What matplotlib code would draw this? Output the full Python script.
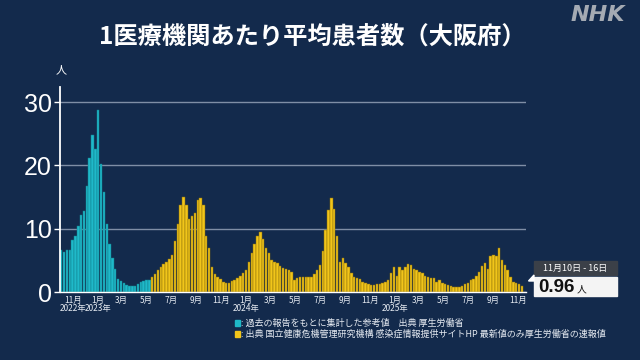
import matplotlib
matplotlib.use('Agg')
import matplotlib.pyplot as plt
import pandas as pd
from matplotlib.patches import Polygon, Rectangle

plt.rcParams['font.family'] = ['Noto Sans CJK JP', 'DejaVu Sans']

# ---------------- data ----------------
first_week = '2022-10-03'

# 過去の報告をもとに集計した参考値 (cyan)
reference_values = [6.6, 6.3, 6.6, 6.6, 8.2, 8.8, 10.4, 12.2, 12.8, 16.7,
                    21.1, 24.8, 22.6, 28.8, 20.3, 15.8, 10.8, 7.6, 5.4, 3.7,
                    2.1, 1.8, 1.4, 1.1, 1.0, 1.0, 1.0, 1.3, 1.6, 1.8,
                    1.9, 1.9]

# 感染症情報提供サイト (yellow)
surveillance_values = [
    2.4, 2.9, 3.4, 3.9, 4.4, 4.8, 5.2, 5.9, 8.0, 10.8,
    13.8, 15.0, 13.8, 11.5, 12.0, 12.5, 14.5, 14.8, 13.8, 8.9,
    7.0, 4.0, 2.9, 2.4, 2.0, 1.6, 1.5, 1.5, 1.7, 1.9,
    2.2, 2.6, 3.0, 3.5, 4.8, 6.1, 7.6, 8.8, 9.5, 8.3,
    7.0, 6.2, 5.1, 4.8, 4.6, 4.1, 3.8, 3.6, 3.4, 3.2,
    1.9, 2.2, 2.4, 2.4, 2.3, 2.3, 2.4, 2.9, 3.5, 4.3,
    6.5, 9.8, 13.0, 14.9, 13.1, 8.8, 4.8, 5.4, 4.6, 3.9,
    3.0, 2.4, 2.2, 2.0, 1.6, 1.4, 1.3, 1.1, 1.1, 1.2,
    1.3, 1.4, 1.6, 1.9, 3.0, 3.9, 2.6, 3.9, 3.5, 4.0,
    4.4, 4.3, 3.6, 3.4, 3.2, 3.0, 2.5, 2.3, 2.2, 2.2,
    1.6, 1.9, 1.4, 1.2, 1.1, 0.95, 0.85, 0.85, 0.85, 1.0,
    1.2, 1.4, 1.9, 2.1, 2.5, 3.2, 4.1, 4.6, 3.6, 5.7,
    5.9, 5.7, 6.9, 5.1, 4.3, 3.5, 2.4, 1.6, 1.4, 1.3,
    0.96]

month_tick_dates = ['2022-11-01', '2023-01-01', '2023-03-01', '2023-05-01',
                    '2023-07-01', '2023-09-01', '2023-11-01', '2024-01-01',
                    '2024-03-01', '2024-05-01', '2024-07-01', '2024-09-01',
                    '2024-11-01', '2025-01-01', '2025-03-01', '2025-05-01',
                    '2025-07-01', '2025-09-01', '2025-11-01']
month_tick_labels = ['11月', '1月', '3月', '5月', '7月', '9月', '11月', '1月',
                     '3月', '5月', '7月', '9月', '11月', '1月', '3月', '5月',
                     '7月', '9月', '11月']
year_label_dates = ['2022-11-01', '2023-01-01', '2024-01-01', '2025-01-01']
year_labels = ['2022年', '2023年', '2024年', '2025年']

y_ticks = [0, 10, 20, 30]
title = '1医療機関あたり平均患者数（大阪府）'
legend_texts = [': 過去の報告をもとに集計した参考値　出典 厚生労働省',
                ': 出典 国立健康危機管理研究機構 感染症情報提供サイトHP 最新値のみ厚生労働省の速報値']
latest_period = '11月10日 - 16日'
latest_value = '0.96'

# ---------------- style ----------------
BG = '#132a4c'
CYAN = '#1fb9c9'
YELLOW = '#f1c51a'
GRID = '#7f8ea6'
W, H = 640, 360


def fx(x):
    return x / W


def fy(y):
    return 1 - y / H


fig = plt.figure(figsize=(6.4, 3.6), dpi=100, facecolor=BG)
ax = fig.add_axes([fx(60), fy(292), (526 - 60) / W, (292 - 87) / H])
ax.set_facecolor(BG)

n_ref = len(reference_values)
weeks = pd.date_range(first_week, periods=n_ref + len(surveillance_values), freq='7D')

ax.bar(weeks[:n_ref], reference_values, width=6.0, color=CYAN,
       edgecolor='#127f8c', linewidth=0.35, zorder=3)
ax.bar(weeks[n_ref:], surveillance_values, width=6.0, color=YELLOW,
       edgecolor='#8a6e0c', linewidth=0.35, zorder=3)

ax.set_xlim(pd.Timestamp('2022-09-30'), pd.Timestamp('2025-11-20'))
ax.set_ylim(0, 32.4)

ax.set_yticks(y_ticks)
ax.set_yticklabels([str(v) for v in y_ticks], fontsize=18, color='white',
                   family=['Liberation Sans', 'DejaVu Sans'])
ax.tick_params(axis='y', length=4.5, width=1, color='white', pad=1.5)
ax.grid(axis='y', color=GRID, linewidth=1.0, zorder=1)

ax.set_xticks(pd.to_datetime(month_tick_dates))
ax.set_xticklabels(month_tick_labels, fontsize=6, color='#e6ebf2')
ax.tick_params(axis='x', length=0, pad=2.5)

for s in ['top', 'right']:
    ax.spines[s].set_visible(False)
ax.spines['left'].set_color('white')
ax.spines['left'].set_linewidth(1.3)
ax.spines['bottom'].set_color('white')
ax.spines['bottom'].set_linewidth(1.0)
ax.spines['left'].set_zorder(5)
ax.spines['bottom'].set_zorder(5)

xt = ax.get_xaxis_transform()
for d, lab in zip(year_label_dates, year_labels):
    ax.text(pd.Timestamp(d), -(308 - 292) / 205, lab, transform=xt,
            ha='center', va='center', fontsize=6, color='#e6ebf2')

# unit label
fig.text(fx(61), fy(70), '人', fontsize=8, color='white', ha='center', va='center')

# title & logo
fig.text(fx(312), fy(37), title, fontsize=17.5, color='white',
         ha='center', va='center', fontweight='bold')
fig.text(fx(598), fy(15), 'NHK', fontsize=16, color='#a4aab3',
         ha='center', va='center', fontweight='heavy', style='italic',
         family=['DejaVu Sans'])

# legend
for i, (txt, col) in enumerate(zip(legend_texts, [CYAN, YELLOW])):
    yy = 323 + i * 11
    fig.patches.append(Rectangle((fx(235), fy(yy + 3)), 5 / W, 6 / H,
                                 transform=fig.transFigure, color=col))
    fig.text(fx(241), fy(yy), txt, fontsize=6.5, color='#e6ebf2',
             ha='left', va='center')

# latest-value callout
fig.patches.append(Rectangle((fx(534), fy(275)), 83 / W, 14 / H,
                             transform=fig.transFigure, color='#3b4048'))
fig.text(fx(575), fy(268), latest_period, fontsize=6.5, color='white',
         ha='center', va='center')
fig.patches.append(Rectangle((fx(534), fy(296)), 83 / W, 19 / H,
                             transform=fig.transFigure, color='#f4f4f4'))
fig.patches.append(Polygon([(fx(528.5), fy(281)), (fx(534), fy(275)),
                            (fx(534), fy(281))], closed=True,
                           transform=fig.transFigure, color='white'))
fig.text(fx(538), fy(287), latest_value, fontsize=13.5, color='#111111',
         ha='left', va='center', fontweight='bold',
         family=['Liberation Sans', 'DejaVu Sans'])
fig.text(fx(576.5), fy(289.5), '人', fontsize=7, color='#111111',
         ha='left', va='center')

fig.savefig('out.png', dpi=100, facecolor=BG)
